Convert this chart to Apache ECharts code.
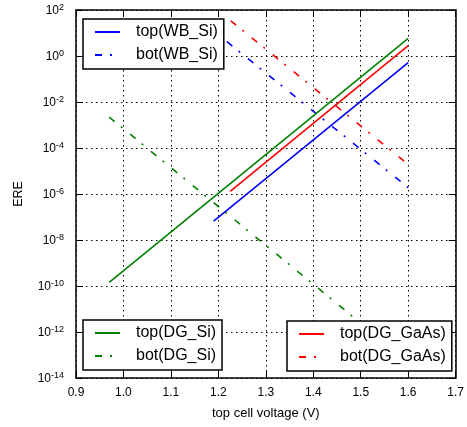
<!DOCTYPE html>
<html>
<head>
<meta charset="utf-8">
<script src="https://cdn.jsdelivr.net/npm/echarts@6/dist/echarts.min.js"></script>
<style>html,body{margin:0;padding:0;background:#fff}#c{width:467px;height:427px}</style>
</head>
<body>
<div id="c"></div>
<script>
// data: [voltage, ERE]
var topWB_Si   = [[1.19, 6.6e-8], [1.60, 0.52]];
var botWB_Si   = [[1.218, 4.2], [1.60, 1.9e-6]];
var topDG_Si   = [[0.97, 1.45e-10], [1.60, 5.9]];
var botDG_Si   = [[0.97, 2.2e-3], [1.60, 5e-14]];
var topDG_GaAs = [[1.225, 1.3e-6], [1.60, 2.8]];
var botDG_GaAs = [[1.226, 34], [1.60, 1.95e-5]];
var xTicks = [0.9, 1.0, 1.1, 1.2, 1.3, 1.4, 1.5, 1.6, 1.7];
var yExponents = [-14, -12, -10, -8, -6, -4, -2, 0, 2];

var FONT = 'Liberation Sans, Arial, sans-serif';
var dashDot = [7, 8, 2, 10];

function mk(name, data, color, dashed) {
  return {
    name: name, type: 'line', data: data, symbol: 'none', xAxisIndex: 0, yAxisIndex: 0,
    lineStyle: {color: color, width: 1.6, type: dashed ? dashDot : 'solid'},
    itemStyle: {color: color}, animation: false
  };
}
function legend(names, left, top) {
  return {
    data: names, orient: 'vertical', left: left, top: top,
    padding: [5, 6, 6, 11], itemWidth: 25, itemHeight: 14, itemGap: 7,
    borderColor: '#000', borderWidth: 1.5, backgroundColor: '#fff',
    itemStyle: {opacity: 0},
    lineStyle: {width: 2},
    textStyle: {fontSize: 16, color: '#000', fontFamily: FONT, padding: [0, 0, 0, 11]},
    z: 10
  };
}
var chart = echarts.init(document.getElementById('c'), null, {renderer: 'canvas'});
var grid = {left: 76, right: 9.3, top: 10, bottom: 49};
chart.setOption({
  animation: false,
  grid: grid,
  xAxis: [{
    type: 'value', min: xTicks[0], max: xTicks[xTicks.length - 1], interval: 0.1, position: 'bottom',
    name: 'top cell voltage (V)', nameLocation: 'middle', nameGap: 29,
    nameTextStyle: {fontSize: 13, color: '#000', fontFamily: FONT},
    axisLine: {lineStyle: {color: '#000', width: 1.5}},
    axisTick: {inside: true, length: 7, lineStyle: {color: '#000', width: 1}},
    axisLabel: {fontSize: 12, color: '#000', fontFamily: FONT, margin: 9,
      formatter: function (v) { return v.toFixed(1); }},
    splitLine: {show: true, lineStyle: {color: '#000', width: 1, type: [1.5, 3.5]}}
  }, {
    type: 'value', min: xTicks[0], max: xTicks[xTicks.length - 1], interval: 0.1, position: 'top',
    axisLine: {lineStyle: {color: '#000', width: 1.5}},
    axisTick: {inside: true, length: 7, lineStyle: {color: '#000', width: 1}},
    axisLabel: {show: false}, splitLine: {show: false}
  }],
  yAxis: [{
    type: 'log', logBase: 10, min: Math.pow(10, yExponents[0]), max: Math.pow(10, yExponents[yExponents.length - 1]), interval: 2,
    position: 'left',
    name: 'ERE', nameLocation: 'middle', nameGap: 51, nameRotate: 90,
    nameTextStyle: {fontSize: 12.5, color: '#000', fontFamily: FONT},
    axisLine: {lineStyle: {color: '#000', width: 1.5}},
    axisTick: {inside: true, length: 7, lineStyle: {color: '#000', width: 1}},
    minorTick: {show: false},
    axisLabel: {color: '#000', fontFamily: FONT, margin: 12,
      formatter: function (v) {
        var e = Math.round(Math.log10(v));
        return '{b|10}{s|' + e + '}';
      },
      rich: {
        b: {fontSize: 12, fontFamily: FONT, color: '#000', verticalAlign: 'bottom', lineHeight: 14},
        s: {fontSize: 9, fontFamily: FONT, color: '#000', verticalAlign: 'top', lineHeight: 8, padding: [0, 0, 8, 0]}
      }},
    splitLine: {show: true, lineStyle: {color: '#000', width: 1, type: [1.5, 3.5]}}
  }, {
    type: 'log', logBase: 10, min: Math.pow(10, yExponents[0]), max: Math.pow(10, yExponents[yExponents.length - 1]), interval: 2,
    position: 'right',
    axisLine: {lineStyle: {color: '#000', width: 1.5}},
    axisTick: {inside: true, length: 7, lineStyle: {color: '#000', width: 1}},
    axisLabel: {show: false}, splitLine: {show: false}
  }],
  legend: [
    legend(['top(WB_Si)', 'bot(WB_Si)'], 83, 19),
    legend(['top(DG_Si)', 'bot(DG_Si)'], 83, 320),
    legend(['top(DG_GaAs)', 'bot(DG_GaAs)'], 287, 321)
  ],
  series: [
    mk('top(WB_Si)', topWB_Si, '#0000ff', false),
    mk('bot(WB_Si)', botWB_Si, '#0000ff', true),
    mk('top(DG_Si)', topDG_Si, '#008000', false),
    mk('bot(DG_Si)', botDG_Si, '#008000', true),
    mk('top(DG_GaAs)', topDG_GaAs, '#ff0000', false),
    mk('bot(DG_GaAs)', botDG_GaAs, '#ff0000', true)
  ]
});
</script>
</body>
</html>
